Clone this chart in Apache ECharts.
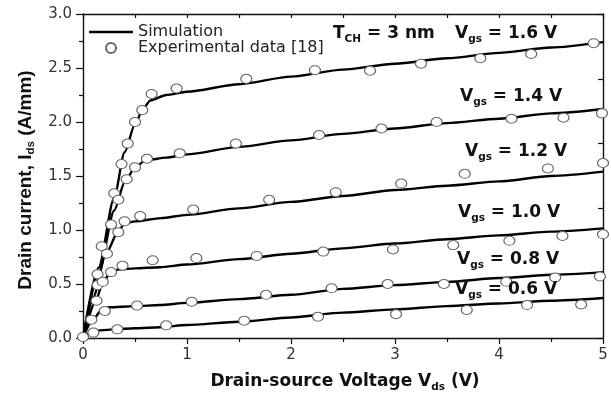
<!DOCTYPE html>
<html>
<head>
<meta charset="utf-8">
<script src="https://cdn.jsdelivr.net/npm/echarts@6/dist/echarts.min.js"></script>
<style>html,body{margin:0;padding:0;background:#fff}#c{width:611px;height:396px}</style>
</head>
<body>
<div id="c"></div>
<script>
// ---- data (Vds in V, Ids in A/mm) ----
var xTicks = [0, 1, 2, 3, 4, 5];
var yTicks = [0.0, 0.5, 1.0, 1.5, 2.0, 2.5, 3.0];

var sim16 = [[0,0],[0.15,0.65],[0.3,1.3],[0.4,1.72],[0.5,1.98],[0.58,2.13],[0.65,2.2],[0.8,2.25],[1.0,2.28],[1.5,2.35],[2.0,2.42],[2.5,2.485],[3.0,2.54],[3.5,2.59],[4.0,2.64],[4.5,2.69],[5.0,2.74]];
var sim14 = [[0,0],[0.15,0.6],[0.3,1.18],[0.4,1.44],[0.5,1.58],[0.6,1.645],[0.8,1.67],[1.0,1.70],[1.5,1.77],[2.0,1.83],[2.5,1.89],[3.0,1.94],[3.5,1.99],[4.0,2.03],[4.5,2.08],[5.0,2.12]];
var sim12 = [[0,0],[0.1,0.38],[0.22,0.78],[0.34,0.99],[0.4,1.06],[0.5,1.08],[0.75,1.11],[1.0,1.14],[1.5,1.20],[2.0,1.26],[2.5,1.315],[3.0,1.37],[3.5,1.41],[4.0,1.45],[4.5,1.50],[5.0,1.54]];
var sim10 = [[0,0],[0.13,0.36],[0.19,0.52],[0.27,0.61],[0.35,0.635],[0.5,0.645],[0.74,0.655],[1.0,0.68],[1.5,0.73],[2.0,0.78],[2.5,0.83],[3.0,0.875],[3.5,0.915],[4.0,0.95],[4.5,0.985],[5.0,1.015]];
var sim08 = [[0,0],[0.096,0.17],[0.18,0.26],[0.25,0.285],[0.5,0.295],[0.74,0.305],[1.0,0.325],[1.5,0.36],[2.0,0.40],[2.5,0.455],[3.0,0.49],[3.5,0.52],[4.0,0.555],[4.5,0.585],[5.0,0.61]];
var sim06 = [[0,0],[0.05,0.04],[0.1,0.065],[0.3,0.08],[0.5,0.09],[0.74,0.10],[1.0,0.12],[1.5,0.15],[2.0,0.19],[2.5,0.235],[3.0,0.265],[3.5,0.295],[4.0,0.32],[4.5,0.345],[5.0,0.37]];

var exp16 = [[0.14,0.59],[0.18,0.85],[0.30,1.34],[0.37,1.61],[0.43,1.80],[0.50,2.0],[0.57,2.11],[0.66,2.26],[0.90,2.31],[1.57,2.40],[2.23,2.48],[2.76,2.475],[3.25,2.54],[3.82,2.59],[4.31,2.63],[4.91,2.73]];
var exp14 = [[0.14,0.49],[0.27,1.05],[0.34,1.28],[0.42,1.47],[0.50,1.58],[0.615,1.66],[0.93,1.71],[1.47,1.80],[2.27,1.88],[2.87,1.94],[3.40,2.0],[4.12,2.03],[4.62,2.04],[4.99,2.08]];
var exp12 = [[0.23,0.78],[0.34,0.98],[0.40,1.08],[0.55,1.13],[1.06,1.19],[1.79,1.28],[2.43,1.35],[3.06,1.43],[3.67,1.52],[4.47,1.57],[5.0,1.62]];
var exp10 = [[0.13,0.345],[0.19,0.52],[0.27,0.61],[0.38,0.67],[0.67,0.72],[1.09,0.74],[1.67,0.76],[2.31,0.80],[2.98,0.82],[3.56,0.86],[4.10,0.90],[4.61,0.945],[5.0,0.96]];
var exp08 = [[0.08,0.17],[0.21,0.25],[0.52,0.30],[1.045,0.336],[1.76,0.40],[2.39,0.46],[2.93,0.50],[3.47,0.50],[4.07,0.52],[4.54,0.56],[4.97,0.57]];
var exp06 = [[0,0.01],[0.1,0.05],[0.33,0.08],[0.80,0.117],[1.55,0.16],[2.26,0.197],[3.01,0.22],[3.69,0.26],[4.27,0.305],[4.79,0.31]];

var vgsLabels = ['1.6', '1.4', '1.2', '1.0', '0.8', '0.6'];

var chart = echarts.init(document.getElementById('c'), null, {renderer: 'canvas'});
var simSets = [sim16, sim14, sim12, sim10, sim08, sim06];
var expSets = [exp16, exp14, exp12, exp10, exp08, exp06];
var series = [];
simSets.forEach(function (d) {
  series.push({
    name: 'Simulation', type: 'line', data: d, xAxisIndex: 0, yAxisIndex: 0,
    symbol: 'none', smooth: 0.25, smoothMonotone: 'x',
    lineStyle: {color: '#000', width: 2.4}, itemStyle: {color: '#000'}, z: 2
  });
});
expSets.forEach(function (d) {
  series.push({
    name: 'Experimental data [18]', type: 'scatter', data: d, xAxisIndex: 0, yAxisIndex: 0,
    symbol: 'circle', symbolSize: [11, 9],
    itemStyle: {color: '#fff', borderColor: '#666', borderWidth: 1.1, opacity: 1}, z: 3
  });
});

var axisLine = {show: true, onZero: false, lineStyle: {color: '#111', width: 1.4}};
var annFont = {fontFamily: 'DejaVu Sans', fontWeight: 'bold', fontSize: 17, fill: '#111', lineHeight: 22};
var subFont = {fontFamily: 'DejaVu Sans', fontWeight: 'bold', fontSize: 10.5, fill: '#111', lineHeight: 10, verticalAlign: 'bottom'};
function ann(x, y, txt) {
  return {type: 'text', x: x, y: y, z: 10,
    style: {text: txt, align: 'left', verticalAlign: 'middle',
      rich: {a: annFont, s: subFont}}};
}
var annPos = [[455, 34], [460, 97], [465, 152], [458, 213], [457, 260], [455, 290]];
var graphics = [ann(333, 34, '{a|T}{s|CH}{a| = 3 nm}')];
vgsLabels.forEach(function (v, i) {
  graphics.push(ann(annPos[i][0], annPos[i][1], '{a|V}{s|gs}{a| = ' + v + ' V}'));
});
graphics.push({type: 'text', x: 345, y: 382, z: 10,
  style: {text: '{a|Drain-source Voltage V}{s|ds}{a| (V)}', align: 'center', verticalAlign: 'middle',
    rich: {a: annFont, s: subFont}}});
graphics.push({type: 'text', x: 26, y: 180, rotation: Math.PI / 2, z: 10,
  style: {text: '{a|Drain current, I}{s|ds}{a| (A/mm)}', align: 'center', verticalAlign: 'middle',
    rich: {a: {fontFamily: 'Liberation Sans', fontWeight: 'bold', fontSize: 19, fill: '#111', lineHeight: 22},
           s: {fontFamily: 'Liberation Sans', fontWeight: 'bold', fontSize: 11.5, fill: '#111', lineHeight: 10, verticalAlign: 'bottom'}}}});

chart.setOption({
  animation: false,
  backgroundColor: '#fff',
  grid: {left: 83, right: 8, top: 14, bottom: 58, show: false},
  legend: {
    orient: 'vertical', left: 84, top: 19, itemGap: 0, itemWidth: 44, itemHeight: 10,
    symbolKeepAspect: true,
    textStyle: {fontFamily: 'DejaVu Sans', fontSize: 16, color: '#222', padding: [0, 0, 0, 0]},
    data: [
      {name: 'Simulation', icon: 'path://M0,0L40,0L40,2.3L0,2.3Z', itemStyle: {color: '#000'}},
      {name: 'Experimental data [18]'}
    ],
    selectedMode: false
  },
  xAxis: [
    {type: 'value', position: 'bottom', min: 0, max: 5, interval: 1,
     axisLine: axisLine, splitLine: {show: false},
     axisTick: {show: true, inside: false, length: 6, lineStyle: {color: '#111', width: 1.2}},
     minorTick: {show: true, splitNumber: 2, length: 4, lineStyle: {color: '#111', width: 1.2}},
     axisLabel: {fontFamily: 'DejaVu Sans', fontSize: 15, color: '#333', margin: 10,
       formatter: function (v) { return xTicks.indexOf(v) >= 0 ? String(v) : ''; }}},
    {type: 'value', position: 'top', min: 0, max: 5, interval: 0.5,
     axisLine: axisLine, splitLine: {show: false},
     axisTick: {show: true, inside: true, length: 4, lineStyle: {color: '#111', width: 1.2}},
     axisLabel: {show: false}}
  ],
  yAxis: [
    {type: 'value', position: 'left', min: 0, max: 3, interval: 0.5,
     axisLine: axisLine, splitLine: {show: false},
     axisTick: {show: true, inside: false, length: 7, lineStyle: {color: '#111', width: 1.2}},
     minorTick: {show: true, splitNumber: 2, length: 4, lineStyle: {color: '#111', width: 1.2}},
     axisLabel: {fontFamily: 'DejaVu Sans', fontSize: 15, color: '#333', margin: 11,
       formatter: function (v) { return yTicks.indexOf(v) >= 0 ? v.toFixed(1) : ''; }}},
    {type: 'value', position: 'right', min: 0, max: 3, interval: 0.6,
     axisLine: axisLine, splitLine: {show: false},
     axisTick: {show: true, inside: true, length: 5, lineStyle: {color: '#111', width: 1.2}},
     axisLabel: {show: false}}
  ],
  graphic: graphics,
  series: series
});
</script>
</body>
</html>
